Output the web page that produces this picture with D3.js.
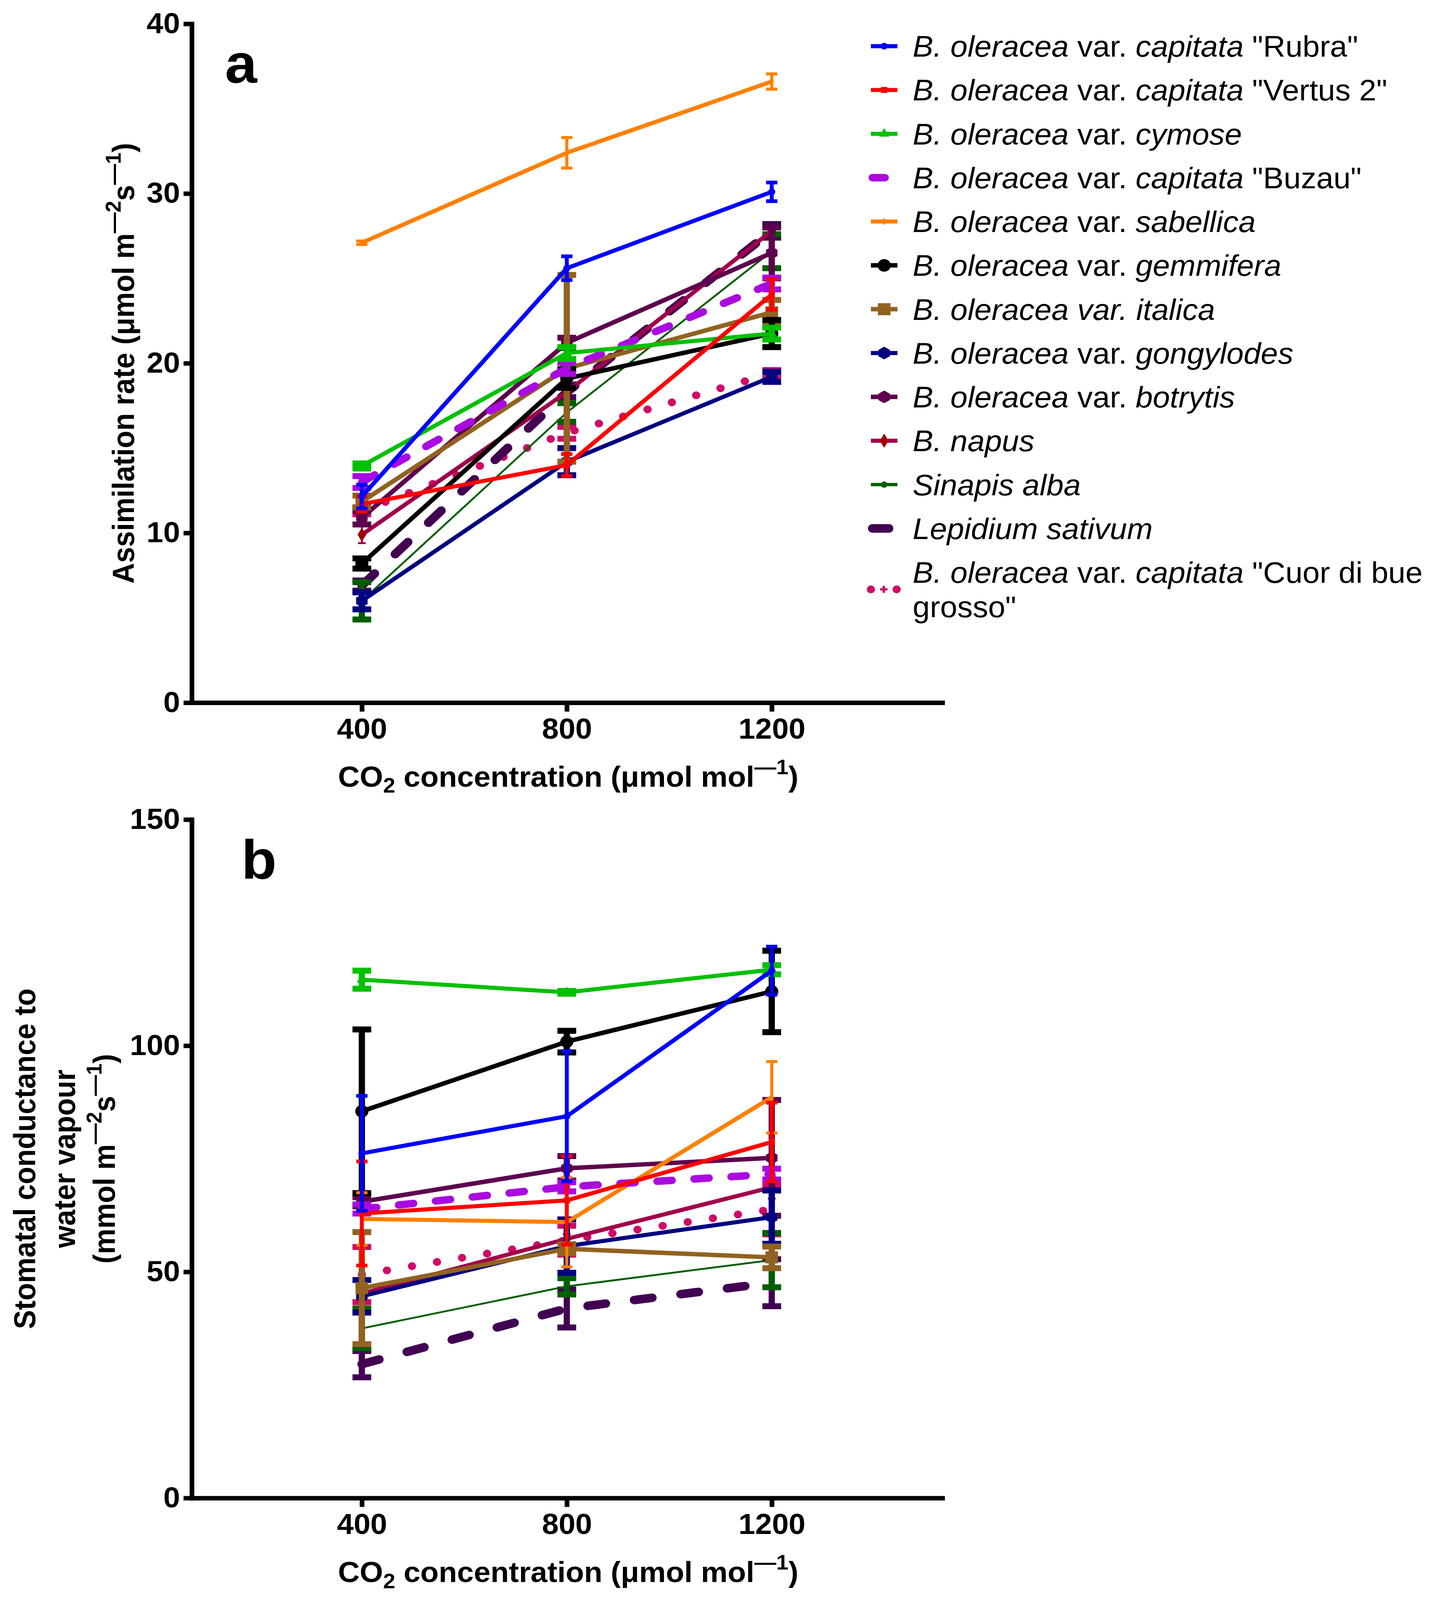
<!DOCTYPE html>
<html>
<head>
<meta charset="utf-8">
<script src="https://cdn.jsdelivr.net/npm/d3@7"></script>
<style>
  html, body { margin: 0; padding: 0; background: #fff; overflow: hidden; }
  svg { display: block; width: 100vw; height: 100vh; }
  text { font-family: "Liberation Sans", Arial, sans-serif; white-space: pre; }
</style>
</head>
<body>
<div id="chart"></div>
<script>
// x positions (CO2, umol mol-1) and axis ticks
const co2Levels = [400, 800, 1200];
const assimTicks = [0, 10, 20, 30, 40];
const condTicks = [0, 50, 100, 150];

// legend labels, one array of [text, italic] pieces per line
const seriesLabels = [
  [[["B. oleracea", true], [" var. ", false], ["capitata", true], [" \"Rubra\"", false]]],
  [[["B. oleracea", true], [" var. ", false], ["capitata", true], [" \"Vertus 2\"", false]]],
  [[["B. oleracea", true], [" var. ", false], ["cymose", true]]],
  [[["B. oleracea", true], [" var. ", false], ["capitata", true], [" \"Buzau\"", false]]],
  [[["B. oleracea", true], [" var. ", false], ["sabellica", true]]],
  [[["B. oleracea", true], [" var. ", false], ["gemmifera", true]]],
  [[["B. oleracea var. italica", true]]],
  [[["B. oleracea", true], [" var. ", false], ["gongylodes", true]]],
  [[["B. oleracea", true], [" var. ", false], ["botrytis", true]]],
  [[["B. napus", true]]],
  [[["Sinapis alba", true]]],
  [[["Lepidium sativum", true]]],
  [[["B. oleracea", true], [" var. ", false], ["capitata", true], [" \"Cuor di bue", false]],
   [["grosso\"", false]]]
];

// panel a: assimilation rate (umol m-2 s-1), mean and error at 400/800/1200
const assimMean = [
  [12.15, 25.6, 30.1],
  [11.7, 14.0, 24.05],
  [13.95, 20.6, 21.75],
  [13.0, 19.7, 24.7],
  [27.1, 32.4, 36.6],
  [8.2, 19.1, 21.75],
  [11.85, 19.7, 23.0],
  [6.0, 14.2, 19.2],
  [10.9, 21.2, 26.5],
  [9.9, 18.3, 27.8],
  [6.0, 17.1, 26.6],
  [6.9, 18.3, 27.8],
  [11.3, 15.9, 19.4]
];
const assimErr = [
  [0.7, 0.7, 0.55],
  [0.45, 0.65, 0.9],
  [0.15, 0.35, 0.35],
  [0.35, 0.33, 0.35],
  [0.1, 0.9, 0.45],
  [0.3, 0.55, 0.8],
  [0.35, 5.5, 0.73],
  [0.5, 0.8, 0.3],
  [0.4, 0.3, 1.5],
  [0.5, 0.3, 0.3],
  [1.1, 0.55, 1.0],
  [0.3, 0.3, 0.4],
  [0.2, 0.35, 0.2]
];

// panel b: stomatal conductance (mmol m-2 s-1)
const condMean = [
  [76.2, 84.4, 116.6],
  [62.9, 65.8, 78.7],
  [114.6, 111.8, 116.8],
  [63.9, 68.8, 71.6],
  [61.7, 61.0, 88.6],
  [85.5, 100.9, 112.0],
  [46.4, 55.1, 53.2],
  [44.6, 55.7, 62.1],
  [65.5, 72.9, 75.2],
  [45.2, 57.3, 68.7],
  [37.5, 46.8, 52.6],
  [29.6, 41.9, 47.6],
  [49.4, 57.0, 63.8]
];
const condErr = [
  [12.7, 14.4, 5.3],
  [11.5, 9.8, 8.7],
  [2.0, 0.3, 1.0],
  [1.0, 1.0, 1.2],
  [5.8, 9.9, 7.9],
  [18.1, 2.4, 9.0],
  [12.4, 1.0, 2.4],
  [3.6, 5.9, 5.9],
  [1.0, 2.7, 12.8],
  [1.5, 1.0, 2.5],
  [4.4, 1.8, 6.0],
  [2.9, 4.2, 5.2],
  [6.1, 3.2, 5.5]
];

// hexagon marker (pointy top) for d3.symbol
const symbolHexagon = {
  draw(ctx, size) {
    const r = Math.sqrt(size / (1.5 * Math.sqrt(3)));
    for (let i = 0; i < 6; i++) {
      const a = Math.PI / 3 * i - Math.PI / 2;
      if (i === 0) ctx.moveTo(r * Math.cos(a), r * Math.sin(a));
      else ctx.lineTo(r * Math.cos(a), r * Math.sin(a));
    }
    ctx.closePath();
  }
};

// drawing style of each series
const seriesStyle = [
  { color: "#0000ff", width: 11, dash: null, sym: d3.symbolCircle, size: 260, barW: 10, capW: 29 },
  { color: "#ff0000", width: 11, dash: null, sym: d3.symbolSquare, size: 260, barW: 10, capW: 29 },
  { color: "#00c000", width: 11, dash: null, sym: d3.symbolTriangle, size: 300, barW: 16, capW: 48 },
  { color: "#aa0ae0", width: 20, dash: "38 57", sym: null, size: 0, barW: 16, capW: 48, legLen: 32 },
  { color: "#ff8000", width: 11, dash: null, sym: d3.symbolDiamond, size: 110, barW: 8, capW: 29 },
  { color: "#000000", width: 12, dash: null, sym: d3.symbolCircle, size: 900, barW: 16, capW: 48 },
  { color: "#916221", width: 12, dash: null, sym: d3.symbolSquare, size: 1050, barW: 16, capW: 48 },
  { color: "#000080", width: 11, dash: null, sym: symbolHexagon, size: 750, barW: 16, capW: 48 },
  { color: "#5e004e", width: 12, dash: null, sym: symbolHexagon, size: 750, barW: 16, capW: 48 },
  { color: "#a0004a", width: 11, dash: null, sym: d3.symbolDiamond, size: 420, barW: 5, capW: 20, symColor: "#a00000" },
  { color: "#005e00", width: 5, dash: null, sym: d3.symbolCircle, size: 220, barW: 16, capW: 48 },
  { color: "#420052", width: 23, dash: "46 74", sym: null, size: 0, barW: 16, capW: 48, legLen: 42 },
  { color: "#cf0a68", width: 21, dash: "0.1 65", sym: d3.symbolCross, size: 200, barW: 16, capW: 48, dotted: true }
];

const W = 3677, H = 4299;
const fontMain = 77;

// drawn in reference pixels, stretched to whatever viewport the page gets
const svg = d3.select("#chart").append("svg")
  .attr("viewBox", `0 0 ${W} ${H}`)
  .attr("preserveAspectRatio", "none");

svg.append("rect").attr("width", W).attr("height", H).attr("fill", "#fff");

const xScale = d3.scaleLinear().domain([68, 1533]).range([491, 2413]);

// text with sub/superscripts: parts are [text, "sub" | "sup" | null]
function addScriptText(sel, parts) {
  let shift = 0;
  parts.forEach(([t, kind]) => {
    const target = kind === "sup" ? -34 : kind === "sub" ? 16 : 0;
    sel.append("tspan")
      .attr("dy", target - shift)
      .attr("font-size", kind ? 56 : fontMain)
      .text(t);
    shift = target;
  });
}

function drawPanel(top, bottom, maxY, ticks, means, errs, letter, letterX, yTitleLines) {
  const yScale = d3.scaleLinear().domain([0, maxY]).range([bottom, top]);
  const g = svg.append("g");

  // series: last first so the first series ends up on top
  for (let s = means.length - 1; s >= 0; s--) {
    const st = seriesStyle[s];
    const pts = co2Levels.map((x, i) => ({ x, y: means[s][i], e: errs[s][i] }));
    const sg = g.append("g");

    const line = d3.line().x(d => xScale(d.x)).y(d => yScale(d.y));
    sg.append("path")
      .datum(pts)
      .attr("fill", "none")
      .attr("stroke", st.color)
      .attr("stroke-width", st.width)
      .attr("stroke-linecap", st.dash ? "round" : "butt")
      .attr("stroke-linejoin", "round")
      .attr("stroke-dasharray", st.dash)
      .attr("d", line);

    // error bars
    const eb = sg.selectAll(".eb").data(pts).enter().append("g");
    eb.append("line")
      .attr("x1", d => xScale(d.x)).attr("x2", d => xScale(d.x))
      .attr("y1", d => yScale(d.y + d.e)).attr("y2", d => yScale(d.y - d.e))
      .attr("stroke", st.color).attr("stroke-width", st.barW);
    [1, -1].forEach(sign => {
      eb.append("line")
        .attr("x1", d => xScale(d.x) - st.capW / 2)
        .attr("x2", d => xScale(d.x) + st.capW / 2)
        .attr("y1", d => yScale(d.y + sign * d.e))
        .attr("y2", d => yScale(d.y + sign * d.e))
        .attr("stroke", st.color).attr("stroke-width", st.barW);
    });

    if (st.sym && !st.dotted) {
      sg.selectAll(".mk").data(pts).enter().append("path")
        .attr("transform", d => `translate(${xScale(d.x)},${yScale(d.y)})`)
        .attr("d", d3.symbol().type(st.sym).size(st.size))
        .attr("fill", st.symColor || st.color);
    }
  }

  // axes
  const yAxis = g.append("g")
    .attr("transform", `translate(${xScale.range()[0]},0)`)
    .call(d3.axisLeft(yScale).tickValues(ticks).tickFormat(d3.format("d"))
      .tickSize(21).tickSizeOuter(0).tickPadding(9));
  const xAxis = g.append("g")
    .attr("transform", `translate(0,${bottom})`)
    .call(d3.axisBottom(xScale).tickValues(co2Levels).tickFormat(d3.format("d"))
      .tickSize(24).tickSizeOuter(0).tickPadding(18));

  [yAxis, xAxis].forEach(ax => {
    ax.select(".domain").attr("stroke", "#000").attr("stroke-width", 12).attr("stroke-linecap", "square");
    ax.selectAll(".tick line").attr("stroke", "#000").attr("stroke-width", 12);
    ax.selectAll(".tick text")
      .attr("fill", "#000")
      .attr("font-size", fontMain)
      .attr("font-weight", "bold")
      .attr("font-family", "'Liberation Sans', Arial, sans-serif");
  });

  // x axis title
  const xt = g.append("text")
    .attr("x", 1455)
    .attr("y", bottom + 226)
    .attr("text-anchor", "middle")
    .attr("font-weight", "bold")
    .attr("font-size", fontMain);
  addScriptText(xt, [["CO", null], ["2", "sub"], [" concentration (\u03bcmol mol", null], ["\u20141", "sup"], [")", null]]);

  // y axis title lines (rotated)
  const yMid = (top + bottom) / 2;
  yTitleLines.forEach(([bx, parts]) => {
    const yt = g.append("text")
      .attr("transform", `translate(${bx},${yMid}) rotate(-90)`)
      .attr("text-anchor", "middle")
      .attr("font-weight", "bold")
      .attr("font-size", fontMain);
    addScriptText(yt, parts);
  });

  // panel letter
  g.append("text")
    .attr("x", letterX)
    .attr("y", top + 158)
    .attr("font-weight", "bold")
    .attr("font-size", 148)
    .text(letter);
}

drawPanel(64, 1888, 40, assimTicks, assimMean, assimErr, "a", 576, [
  [343, [["Assimilation rate (\u03bcmol m", null], ["\u20142", "sup"], ["s", null], ["\u20141", "sup"], [")", null]]]
]);

drawPanel(2202, 4025, 150, condTicks, condMean, condErr, "b", 618, [
  [90, [["Stomatal conductance to", null]]],
  [192, [["water vapour", null]]],
  [294, [["(mmol m", null], ["\u20142", "sup"], ["s", null], ["\u20141", "sup"], [")", null]]]
]);

// legend
const legend = svg.append("g");
const legX = 2230, legTextX = 2337, legTop = 124, legStep = 117.8, legLine2 = 92;
seriesLabels.forEach((lines, i) => {
  const st = seriesStyle[i];
  const y0 = legTop + legStep * i;
  const symY = y0 + (lines.length - 1) * legLine2 / 2;
  const lg = legend.append("g");

  if (st.dotted) {
    [legX, legX + 66].forEach(cx => lg.append("circle")
      .attr("cx", cx).attr("cy", symY).attr("r", st.width / 2).attr("fill", st.color));
    lg.append("path")
      .attr("transform", `translate(${legX + 33},${symY})`)
      .attr("d", d3.symbol().type(st.sym).size(st.size))
      .attr("fill", st.color);
  } else if (st.dash) {
    lg.append("line")
      .attr("x1", legX + 4).attr("x2", legX + 4 + st.legLen)
      .attr("y1", symY).attr("y2", symY)
      .attr("stroke", st.color).attr("stroke-width", st.width)
      .attr("stroke-linecap", "round");
  } else {
    lg.append("line")
      .attr("x1", legX).attr("x2", legX + 68)
      .attr("y1", symY).attr("y2", symY)
      .attr("stroke", st.color).attr("stroke-width", Math.max(st.width, 9));
    lg.append("path")
      .attr("transform", `translate(${legX + 34},${symY})`)
      .attr("d", d3.symbol().type(st.sym).size(st.size))
      .attr("fill", st.symColor || st.color);
  }

  lines.forEach((parts, li) => {
    const t = lg.append("text")
      .attr("x", legTextX)
      .attr("y", y0 + li * legLine2)
      .attr("dy", "0.36em")
      .attr("font-size", 79);
    parts.forEach(([txt, it]) => t.append("tspan")
      .attr("font-style", it ? "italic" : "normal")
      .text(txt));
  });
});
</script>
</body>
</html>
